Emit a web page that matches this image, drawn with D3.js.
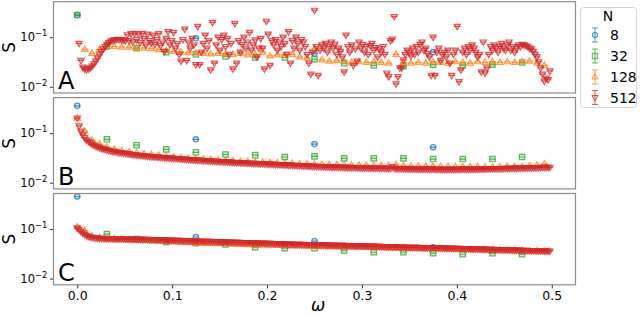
<!DOCTYPE html>
<html>
<head>
<meta charset="utf-8">
<script src="https://cdn.jsdelivr.net/npm/d3@7"></script>
<style>
body { margin: 0; background: #fff; }
text { font-family: "DejaVu Sans", sans-serif; fill: #000; }
</style>
</head>
<body>
<svg id="chart" width="640" height="316"></svg>
<script>
// system sizes, one series each
var sizes = [8, 32, 128, 512];
var panelNames = ["A", "B", "C"];
var xTicks = [0, 0.1, 0.2, 0.3, 0.4, 0.5];
var yTicks = [0.01, 0.1];

// panel A
var a8 = [0.28, 0.095, 0.047, 0.05];
var a32 = [0.28, 0.065, 0.06, 0.05, 0.045, 0.041, 0.039, 0.039, 0.036, 0.03, 0.027, 0.026, 0.028, 0.027, 0.028, 0.031];
var a128 = [null, 0.057, 0.047, 0.057, 0.065, 0.065, 0.063, 0.063, 0.061, 0.06, 0.059, 0.056, 0.054, 0.052, 0.051, 0.049,
  0.048, 0.047, 0.046, 0.047, 0.046, 0.045, 0.047, 0.044, 0.045, 0.05, 0.042, 0.044, 0.043, 0.045, 0.04, 0.038,
  0.058, 0.035, 0.033, 0.034, 0.032, 0.031, 0.032, 0.031, 0.032, 0.031, 0.03, 0.045, 0.031, 0.03, 0.031, 0.03,
  0.032, 0.031, 0.03, 0.032, 0.031, 0.03, 0.032, 0.031, 0.032, 0.031, 0.032, 0.031, 0.032, 0.033, 0.03, 0.027];
var a512 = [null,
  0.075, 0.034, 0.025, 0.023, 0.022, 0.023, 0.024, 0.026, 0.029, 0.033,
  0.038, 0.044, 0.051, 0.058, 0.065, 0.072, 0.078, 0.083, 0.086, 0.088,
  0.09, 0.091, 0.09, 0.089, 0.087, 0.085, 0.112, 0.085, 0.118, 0.08,
  0.12, 0.09, 0.116, 0.078, 0.12, 0.095, 0.07, 0.115, 0.085, 0.078,
  0.11, 0.072, 0.09, 0.118, 0.068, 0.08, 0.052, 0.095, 0.13, 0.07,
  0.085, 0.125, 0.06, 0.075, 0.045, 0.033, 0.09, 0.146, 0.034, 0.08,
  0.06, 0.095, 0.07, 0.028, 0.165, 0.028, 0.05, 0.075, 0.11, 0.06,
  0.085, 0.022, 0.2, 0.03, 0.07, 0.1, 0.055, 0.09, 0.11, 0.065,
  0.095, 0.045, 0.075, 0.023, 0.19, 0.03, 0.085, 0.05, 0.072, 0.1,
  0.06, 0.08, 0.125, 0.055, 0.07, 0.088, 0.04, 0.06, 0.095, 0.06,
  0.023, 0.21, 0.115, 0.027, 0.085, 0.07, 0.09, 0.055, 0.08, 0.065,
  0.1, 0.075, 0.045, 0.13, 0.03, 0.085, 0.06, 0.1, 0.075, 0.055,
  0.09, 0.08, 0.065, 0.045, 0.03, 0.018, 0.05, 0.35, 0.065, 0.017,
  0.055, 0.07, 0.06, 0.075, 0.05, 0.065, 0.08, 0.06, 0.073, 0.045,
  0.06, 0.052, 0.04, 0.02, 0.11, 0.065, 0.05, 0.07, 0.027, 0.058,
  0.033, 0.08, 0.06, 0.072, 0.05, 0.065, 0.045, 0.068, 0.075, 0.055,
  0.062, 0.04, 0.058, 0.05, 0.065, 0.045, 0.019, 0.016, 0.085, 0.092,
  0.26, 0.0115, 0.016, 0.024, 0.024, 0.035, 0.045, 0.055, 0.05, 0.042,
  0.06, 0.045, 0.065, 0.05, 0.072, 0.08, 0.055, 0.06, 0.047, 0.04,
  0.017, 0.1, 0.017, 0.05, 0.06, 0.034, 0.045, 0.05, 0.04, 0.055,
  0.03, 0.017, 0.045, 0.055, 0.165, 0.0127, 0.022, 0.05, 0.06, 0.045,
  0.065, 0.055, 0.07, 0.06, 0.05, 0.04, 0.045, 0.02, 0.08, 0.019,
  0.024, 0.045, 0.065, 0.055, 0.07, 0.06, 0.05, 0.065, 0.075, 0.06,
  0.055, 0.07, 0.08, 0.055, 0.065, 0.05, 0.06, 0.07, 0.065, 0.072,
  0.07, 0.068, 0.065, 0.06, 0.058, 0.052, 0.045, 0.04, 0.032, 0.024,
  0.018, 0.013, 0.015, 0.014, 0.021];

// panel B
var b8 = [0.355, 0.075, 0.06, 0.052];
var b32 = [null, 0.075, 0.057, 0.047, 0.041, 0.037, 0.036, 0.033, 0.034, 0.031, 0.031, 0.031, 0.03, 0.03, 0.03, 0.033];
var b128 = [0.2, 0.11, 0.072, 0.06, 0.052, 0.047, 0.044, 0.042, 0.04, 0.038, 0.037, 0.036, 0.034, 0.033, 0.032, 0.031,
  0.031, 0.03, 0.029, 0.0285, 0.028, 0.0275, 0.027, 0.0265, 0.026, 0.0258, 0.0255, 0.025, 0.0248, 0.0245, 0.024, 0.0238,
  0.0236, 0.0234, 0.0232, 0.023, 0.0228, 0.0226, 0.0225, 0.0224, 0.0222, 0.0221, 0.022, 0.0232, 0.0218, 0.0216, 0.0215, 0.0214,
  0.0213, 0.0212, 0.0212, 0.0211, 0.021, 0.021, 0.021, 0.0209, 0.0209, 0.0209, 0.021, 0.021, 0.0212, 0.022, 0.0225, 0.024];
var b512 = [0.2, 0.14, 0.11, 0.092, 0.081, 0.073, 0.068, 0.064, 0.06, 0.057, 0.055, 0.053, 0.051, 0.049, 0.048, 0.047,
  0.046, 0.045, 0.044, 0.043, 0.0425, 0.042, 0.041, 0.0405, 0.04, 0.0395, 0.039, 0.0385, 0.038, 0.0375, 0.037, 0.0366,
  0.0362, 0.0358, 0.0355, 0.0352, 0.0348, 0.0345, 0.0342, 0.034, 0.0337, 0.0334, 0.0332, 0.033, 0.0327, 0.0325, 0.0322, 0.032,
  0.0318, 0.0316, 0.0314, 0.0312, 0.031, 0.0308, 0.0306, 0.0304, 0.0302, 0.03, 0.0298, 0.0296, 0.0294, 0.0292, 0.029, 0.0289,
  0.0287, 0.0285, 0.0284, 0.0282, 0.028, 0.0279, 0.0277, 0.0276, 0.0274, 0.0273, 0.0271, 0.027, 0.0268, 0.0267, 0.0266, 0.0264,
  0.0263, 0.0262, 0.026, 0.0259, 0.0258, 0.0257, 0.0255, 0.0254, 0.0253, 0.0252, 0.0251, 0.025, 0.0249, 0.0248, 0.0247, 0.0246,
  0.0245, 0.0244, 0.0243, 0.0242, 0.0241, 0.024, 0.0239, 0.0238, 0.0237, 0.0236, 0.0235, 0.0234, 0.0233, 0.0232, 0.0231, 0.023,
  0.0229, 0.0228, 0.0227, 0.0226, 0.0225, 0.0224, 0.0223, 0.0222, 0.0221, 0.022, 0.0219, 0.0218, 0.0217, 0.0216, 0.0215, 0.0214,
  0.0216, 0.0213, 0.0212, 0.0211, 0.0211, 0.021, 0.021, 0.0209, 0.0208, 0.0208, 0.0207, 0.0207, 0.0206, 0.0206, 0.0205, 0.0205,
  0.0204, 0.0204, 0.0203, 0.0203, 0.0202, 0.0202, 0.0201, 0.0201, 0.02, 0.02, 0.02, 0.0199, 0.0199, 0.0198, 0.0198, 0.0198,
  0.0197, 0.0197, 0.0197, 0.0196, 0.0196, 0.0196, 0.0195, 0.0195, 0.0195, 0.0194, 0.021, 0.0196, 0.0193, 0.0192, 0.0192, 0.0191,
  0.0191, 0.0191, 0.019, 0.019, 0.019, 0.0189, 0.0189, 0.0189, 0.0189, 0.0188, 0.0188, 0.0188, 0.0188, 0.0187, 0.0187, 0.0187,
  0.0189, 0.0187, 0.0187, 0.0186, 0.0186, 0.0186, 0.0186, 0.0186, 0.0186, 0.0186, 0.0186, 0.0186, 0.0186, 0.0186, 0.0186, 0.0187,
  0.0187, 0.0187, 0.0187, 0.0187, 0.0188, 0.0188, 0.0188, 0.0188, 0.0189, 0.0189, 0.0189, 0.019, 0.019, 0.019, 0.0191, 0.0191,
  0.0191, 0.0192, 0.0192, 0.0192, 0.0193, 0.0193, 0.0194, 0.0194, 0.0194, 0.0195, 0.0195, 0.0196, 0.0196, 0.0196, 0.0197, 0.0197,
  0.0198, 0.0198, 0.0199, 0.0199, 0.02, 0.02, 0.0201, 0.0201, 0.0202, 0.0202, 0.0203, 0.0203, 0.0204, 0.0204, 0.0205, 0.0205];

// panel C
var c8 = [0.45, 0.069, 0.057, 0.043];
var c32 = [null, 0.079, 0.0625, 0.055, 0.052, 0.049, 0.043, 0.041, 0.041, 0.037, 0.034, 0.034, 0.0325, 0.031, 0.0325, 0.031];
var c128 = [0.11, 0.093, 0.072, 0.066, 0.064, 0.063, 0.062, 0.061, 0.06, 0.059, 0.058, 0.057, 0.056, 0.055, 0.054, 0.053,
  0.052, 0.0515, 0.051, 0.0505, 0.05, 0.0495, 0.049, 0.0485, 0.048, 0.0475, 0.047, 0.0465, 0.046, 0.0457, 0.0454, 0.045,
  0.0447, 0.0444, 0.0441, 0.0438, 0.0435, 0.0432, 0.0429, 0.0426, 0.0423, 0.042, 0.0417, 0.0414, 0.0411, 0.0408, 0.0405, 0.0402,
  0.04, 0.0397, 0.0394, 0.0391, 0.0388, 0.0385, 0.0382, 0.038, 0.0377, 0.0374, 0.0371, 0.0368, 0.0365, 0.0362, 0.036, 0.0357];
var c512 = [0.105, 0.098, 0.09, 0.083, 0.078, 0.074, 0.071, 0.069, 0.068, 0.067, 0.066, 0.0655, 0.065, 0.0648, 0.0645, 0.0643,
  0.064, 0.0639, 0.0638, 0.0637, 0.0636, 0.0635, 0.0634, 0.0633, 0.0632, 0.0631, 0.063, 0.0629, 0.0628, 0.0627, 0.0626, 0.0625,
  0.0625, 0.0623, 0.0622, 0.062, 0.0619, 0.0617, 0.0616, 0.0614, 0.0613, 0.0611, 0.061, 0.0608, 0.0607, 0.0605, 0.0604, 0.0602,
  0.06, 0.0599, 0.0597, 0.0596, 0.0594, 0.0593, 0.0591, 0.059, 0.0588, 0.0586, 0.0584, 0.0582, 0.058, 0.0578, 0.0576, 0.0574,
  0.0572, 0.0571, 0.057, 0.0568, 0.0567, 0.0565, 0.0564, 0.0562, 0.0561, 0.0559, 0.0558, 0.0556, 0.0555, 0.0553, 0.0552, 0.055,
  0.0549, 0.0547, 0.0546, 0.0544, 0.0543, 0.0541, 0.054, 0.0538, 0.0537, 0.0535, 0.0534, 0.0532, 0.0531, 0.0529, 0.0528, 0.0526,
  0.0525, 0.0523, 0.0522, 0.052, 0.0519, 0.0517, 0.0516, 0.0514, 0.0513, 0.0511, 0.051, 0.0508, 0.0507, 0.0505, 0.0504, 0.0502,
  0.0501, 0.0499, 0.0498, 0.0496, 0.0495, 0.0493, 0.0492, 0.0491, 0.049, 0.0489, 0.0488, 0.0487, 0.0486, 0.0485, 0.0484, 0.0483,
  0.0484, 0.0481, 0.048, 0.0479, 0.0478, 0.0477, 0.0476, 0.0475, 0.0474, 0.0473, 0.0472, 0.0471, 0.047, 0.0469, 0.0468, 0.0467,
  0.0466, 0.0465, 0.0464, 0.0463, 0.0462, 0.0461, 0.046, 0.0459, 0.0458, 0.0457, 0.0456, 0.0455, 0.0454, 0.0453, 0.0452, 0.0451,
  0.045, 0.0449, 0.0447, 0.0446, 0.0445, 0.0444, 0.0443, 0.0441, 0.044, 0.0439, 0.0438, 0.0437, 0.0435, 0.0434, 0.0433, 0.0432,
  0.0431, 0.043, 0.0429, 0.0428, 0.0428, 0.0427, 0.0426, 0.0425, 0.0425, 0.0424, 0.0423, 0.0422, 0.0422, 0.0421, 0.042, 0.042,
  0.042, 0.0419, 0.0418, 0.0417, 0.0416, 0.0415, 0.0414, 0.0413, 0.0412, 0.0411, 0.041, 0.0409, 0.0408, 0.0407, 0.0406, 0.0405,
  0.0404, 0.0403, 0.0402, 0.0401, 0.04, 0.0399, 0.0398, 0.0397, 0.0396, 0.0395, 0.0394, 0.0393, 0.0392, 0.0391, 0.039, 0.0389,
  0.0388, 0.0387, 0.0386, 0.0385, 0.0384, 0.0383, 0.0382, 0.0381, 0.038, 0.0379, 0.0378, 0.0377, 0.0376, 0.0375, 0.0374, 0.0373,
  0.0372, 0.0371, 0.037, 0.0369, 0.0368, 0.0367, 0.0366, 0.0365, 0.0364, 0.0363, 0.0362, 0.0362, 0.0361, 0.0361, 0.036, 0.036];

var panelData = [[a8, a32, a128, a512], [b8, b32, b128, b512], [c8, c32, c128, c512]];

var colors = ["#1f77b4", "#2ca02c", "#ff7f0e", "#d62728"];
// marker shapes: circle, square, triangle up, triangle down
var shapes = [
  "M2.7,0A2.7,2.7 0 1,1 -2.7,0A2.7,2.7 0 1,1 2.7,0Z",
  "M-2.7,-2.7H2.7V2.7H-2.7Z",
  "M0,-3.4L3.1,2H-3.1Z",
  "M0,3.4L3.1,-2H-3.1Z"
];
var capPath = "M-3.3,0H3.3";

var left = 53.5, right = 575.5;
var tops = [1.7, 97.6, 193.5], panelH = 91.3;

var svg = d3.select("#chart");

var x = d3.scaleLinear().domain([-0.025, 0.525]).range([left, right]);

panelNames.forEach(function(name, p) {
  var top = tops[p];
  var y = d3.scaleLog().domain([0.0075, 0.52]).range([top + panelH, top]);
  var g = svg.append("g");

  g.append("clipPath").attr("id", "clip" + p)
    .append("rect").attr("x", left).attr("y", top).attr("width", right - left).attr("height", panelH);

  // y ticks
  var yAxis = d3.axisLeft(y).tickValues(yTicks).tickSize(3.5).tickFormat("");
  var ya = g.append("g").attr("transform", "translate(" + left + ",0)").call(yAxis);
  ya.select(".domain").remove();
  ya.selectAll("line").attr("stroke", "#333");

  yTicks.forEach(function(v) {
    var lab = g.append("text")
      .attr("x", left - 6)
      .attr("y", y(v) + 4)
      .attr("text-anchor", "end")
      .style("font-size", "11.5px");
    lab.append("tspan").text("10");
    lab.append("tspan").attr("dy", -5).style("font-size", "8.5px").text("\u2212" + Math.round(-Math.log10(v)));
  });

  // y label
  g.append("text")
    .attr("transform", "translate(15," + (top + panelH / 2) + ") rotate(-90)")
    .attr("text-anchor", "middle")
    .style("font-size", "17px")
    .text("S");

  var plot = g.append("g").attr("clip-path", "url(#clip" + p + ")");

  panelData[p].forEach(function(vals, si) {
    var n = sizes[si];
    var pts = [];
    vals.forEach(function(v, k) {
      if (v != null) pts.push({ w: k / n, s: v });
    });
    var grp = plot.append("g")
      .attr("fill", colors[si])
      .attr("fill-opacity", 0.18)
      .attr("stroke", colors[si])
      .attr("stroke-opacity", 0.75)
      .attr("stroke-width", 1.2);
    var m = grp.selectAll("g.pt")
      .data(pts)
      .enter()
      .append("g")
      .attr("class", "pt")
      .attr("transform", function(d) { return "translate(" + x(d.w) + "," + y(d.s) + ")"; });
    m.append("path").attr("d", shapes[si]);
    m.append("path").attr("d", capPath);
  });

  // frame
  g.append("rect")
    .attr("x", left).attr("y", top)
    .attr("width", right - left).attr("height", panelH)
    .attr("fill", "none")
    .attr("stroke", "#8c8c8c")
    .attr("stroke-width", 1.2);

  // panel letter
  g.append("text")
    .attr("x", 58)
    .attr("y", top + panelH - 4)
    .style("font-size", "24px")
    .text(name);

  if (p == 2) {
    var xAxis = d3.axisBottom(x).tickValues(xTicks).tickSize(3.5).tickPadding(3).tickFormat(d3.format(".1f"));
    var xa = g.append("g").attr("transform", "translate(0," + (top + panelH) + ")").call(xAxis);
    xa.select(".domain").remove();
    xa.selectAll("line").attr("stroke", "#333");
    xa.selectAll("text").style("font-size", "12.5px").style("font-family", "DejaVu Sans");
  }
});

// x label
svg.append("text")
  .attr("x", 318)
  .attr("y", 311)
  .attr("text-anchor", "middle")
  .style("font-size", "17px")
  .style("font-style", "italic")
  .text("\u03c9");

// legend
var leg = svg.append("g");
leg.append("rect")
  .attr("x", 580.5).attr("y", 7.5)
  .attr("width", 56).attr("height", 100)
  .attr("rx", 3)
  .attr("fill", "#fff")
  .attr("stroke", "#d5d5d5");
leg.append("text")
  .attr("x", 608).attr("y", 21)
  .attr("text-anchor", "middle")
  .style("font-size", "14px")
  .text("N");
var rowY = [35, 56, 77, 97.5];
sizes.forEach(function(n, i) {
  var r = leg.append("g")
    .attr("transform", "translate(595," + rowY[i] + ")")
    .attr("fill", colors[i])
    .attr("fill-opacity", 0.18)
    .attr("stroke", colors[i])
    .attr("stroke-opacity", 0.75);
  r.append("path").attr("d", "M0,-7V7M-3,-7H3M-3,7H3").attr("fill", "none");
  r.append("path").attr("d", shapes[i]);
  leg.append("text")
    .attr("x", 610).attr("y", rowY[i] + 5)
    .style("font-size", "14px")
    .text(n);
});
</script>
</body>
</html>
